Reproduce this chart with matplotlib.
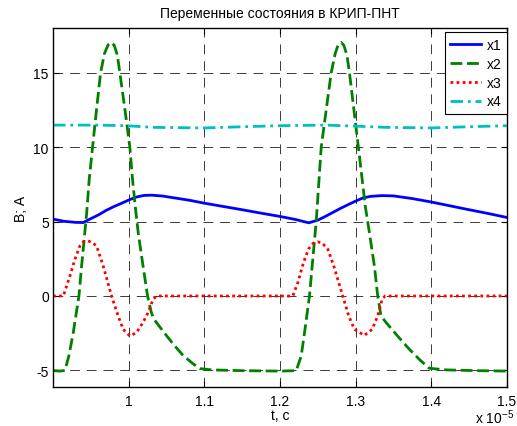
import numpy as np
import matplotlib
matplotlib.use("Agg")
import matplotlib.pyplot as plt

plt.rcParams['font.family'] = ['Liberation Sans', 'DejaVu Sans']
plt.rcParams['mathtext.default'] = 'regular'
plt.rcParams['lines.scale_dashes'] = False
plt.rcParams['axes.unicode_minus'] = False

# time in units of 1e-5 s
t_x1 = [0.900, 0.915, 0.930, 0.940, 0.950, 0.960, 0.970, 0.980, 0.990, 1.000,
        1.010, 1.020, 1.030, 1.045, 1.060, 1.080, 1.100, 1.125, 1.150, 1.175,
        1.200, 1.220, 1.238, 1.250, 1.260, 1.270, 1.280, 1.290, 1.300, 1.310,
        1.320, 1.335, 1.350, 1.375, 1.400, 1.425, 1.450, 1.475, 1.500]
v_x1 = [5.17, 5.02, 4.95, 4.94, 5.20, 5.45, 5.75, 6.00, 6.22, 6.45,
        6.65, 6.76, 6.78, 6.72, 6.60, 6.44, 6.24, 6.02, 5.80, 5.57,
        5.35, 5.15, 4.92, 5.10, 5.35, 5.62, 5.89, 6.14, 6.38, 6.60,
        6.70, 6.75, 6.73, 6.55, 6.32, 6.06, 5.80, 5.55, 5.28]

t_x2 = [0.900, 0.910, 0.9158, 0.921, 0.9268, 0.9343, 0.9378, 0.9444, 0.9479, 0.9523,
        0.9576, 0.9629, 0.968, 0.973, 0.9774, 0.981, 0.985, 0.9884, 0.995, 1.0016,
        1.0051, 1.0091, 1.0126, 1.019, 1.025, 1.030, 1.0334, 1.0469, 1.060, 1.072,
        1.085, 1.094, 1.110, 1.150, 1.200, 1.2215,
        1.2281, 1.2325, 1.239, 1.2426, 1.2479, 1.2545, 1.2677, 1.273, 1.277, 1.281,
        1.2845, 1.2885, 1.2919, 1.3037, 1.3129, 1.3182, 1.3248, 1.3292, 1.3336, 1.3402,
        1.3555, 1.371, 1.385, 1.3974, 1.420, 1.460, 1.500]
v_x2 = [-5.02, -5.05, -5.0, -4.03, -2.46, 0.0, 2.02, 5.5, 7.86, 10.0,
        12.57, 15.0, 16.3, 16.9, 17.05, 16.85, 16.2, 15.0, 12.57, 10.0,
        7.86, 5.84, 4.27, 2.02, 0.0, -1.11, -1.56, -2.46, -3.3, -4.0,
        -4.55, -4.88, -4.97, -5.02, -5.05, -5.02,
        -4.03, -2.46, 0.0, 2.02, 5.0, 10.0, 15.0, 16.3, 16.9, 17.05,
        16.85, 16.2, 15.0, 10.0, 6.0, 4.27, 2.02, 0.0, -1.34, -1.78,
        -2.69, -3.58, -4.3, -4.86, -4.97, -5.02, -5.05]

t_x3 = [0.900, 0.9137, 0.9224, 0.929, 0.9356, 0.9405, 0.9455, 0.951, 0.9576, 0.9664,
        0.9774, 0.9861, 0.9928, 1.0016, 1.0104, 1.019, 1.0257, 1.0323, 1.0368, 1.217,
        1.2236, 1.2311, 1.2377, 1.244, 1.250, 1.256, 1.2632, 1.2711, 1.283, 1.2909,
        1.2984, 1.3116, 1.3218, 1.3292, 1.335, 1.3389, 1.500]
v_x3 = [0.0, 0.0, 1.35, 2.47, 3.37, 3.65, 3.71, 3.62, 3.37, 2.02,
        0.0, -1.34, -2.24, -2.69, -2.46, -1.78, -1.11, -0.22, 0.0, 0.0,
        0.9, 2.25, 3.15, 3.55, 3.64, 3.55, 3.15, 2.02, 0.0, -1.34,
        -2.24, -2.65, -2.24, -1.34, -0.22, 0.0, 0.0]

t_x4 = [0.900, 0.957, 0.997, 1.032, 1.100, 1.164, 1.199, 1.260, 1.300, 1.340,
        1.400, 1.450, 1.500]
v_x4 = [11.49, 11.49, 11.45, 11.34, 11.30, 11.40, 11.45, 11.49, 11.42, 11.34,
        11.30, 11.38, 11.45]

x_ticks = [1.0, 1.1, 1.2, 1.3, 1.4, 1.5]
x_tick_labels = ['1', '1.1', '1.2', '1.3', '1.4', '1.5']
y_ticks = [-5, 0, 5, 10, 15]

fig = plt.figure(figsize=(5.17, 4.27), dpi=100)
ax = fig.add_axes([0.1025, 0.092, 0.878, 0.8394])

ax.plot(t_x1, v_x1, color='#0000ff', lw=2, label='x1')
ax.plot(t_x2, v_x2, color='#008000', lw=2, linestyle=(0, (8.5, 3.4)), label='x2')
ax.plot(t_x3, v_x3, color='#ff0000', lw=2, linestyle=(0, (2.0, 2.4)), label='x3')
ax.plot(t_x4, v_x4, color='#00bfbf', lw=2, linestyle=(0, (9, 3.5, 2, 3.5)), label='x4')

ax.set_xlim(0.9, 1.5)
ax.set_ylim(-6.1, 18)
ax.set_xticks(x_ticks)
ax.set_xticklabels(x_tick_labels)
ax.set_yticks(y_ticks)
ax.tick_params(direction='in', length=4, width=0.8, top=True, right=True,
               labelsize=10, colors='k')
ax.tick_params(axis='y', pad=3)
ax.tick_params(axis='x', pad=5)
ax.grid(True, color='0.1', lw=0.6, linestyle=(0, (7, 5)))
for s in ax.spines.values():
    s.set_linewidth(1.0)

ax.set_title('Переменные состояния в КРИП-ПНТ', fontsize=10, pad=8)
ax.set_xlabel('t, c', fontsize=10, labelpad=0)
ax.set_ylabel('В; А', fontsize=10, labelpad=4)
ax.text(1.016, -0.1, 'x 10$^{-5}$', transform=ax.transAxes, ha='right',
        va='baseline', fontsize=10)

leg = ax.legend(loc='upper right', bbox_to_anchor=(1.0, 0.989), borderaxespad=0,
                fancybox=False, edgecolor='k', framealpha=1, fontsize=10,
                handlelength=2.2, handletextpad=0.4, labelspacing=0.35, borderpad=0.4)
leg.get_frame().set_linewidth(0.8)

fig.savefig('out.png', dpi=100, facecolor='white')
